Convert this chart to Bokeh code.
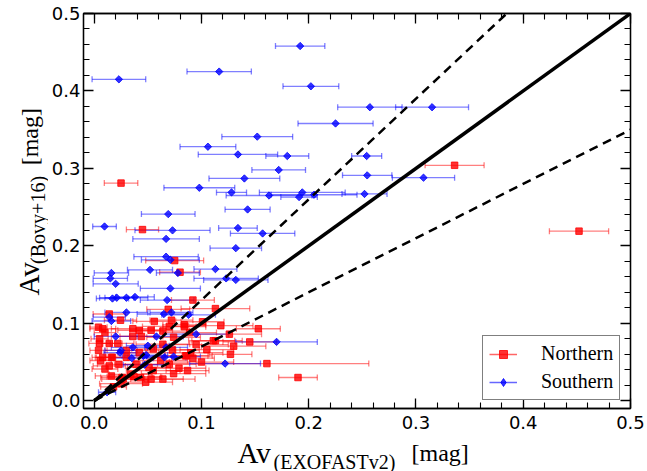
import numpy as np
from bokeh.plotting import figure
from bokeh.layouts import row, column
from bokeh.models import (Range1d, LinearAxis, FixedTicker, NumeralTickFormatter, Whisker,
                          TeeHead, ColumnDataSource, Legend, LegendItem)
from bokeh.core.properties import value
from bokeh.embed import file_html
from bokeh.resources import INLINE

# ---------------- data ----------------
north_x = [0.336, 0.452, 0.025, 0.045, 0.075, 0.080, 0.092, 0.069, 0.113, 0.101,
           0.153, 0.126, 0.145, 0.113, 0.111, 0.127, 0.092, 0.086, 0.087, 0.161,
           0.190, 0.0245, 0.084, 0.072, 0.056, 0.014, 0.008, 0.036, 0.042, 0.053,
           0.064, 0.070, 0.084, 0.074, 0.089, 0.036, 0.044, 0.005, 0.014, 0.022,
           0.064, 0.073, 0.085, 0.008, 0.017, 0.030, 0.014, 0.023, 0.039, 0.051,
           0.062, 0.070, 0.079, 0.016, 0.026, 0.034, 0.043, 0.048, 0.053, 0.004,
           0.006, 0.010, 0.016, 0.027, 0.037, 0.055, 0.064, 0.074, 0.090, 0.095,
           0.004, 0.010, 0.005, 0.030, 0.042, 0.055, 0.105, 0.100, 0.118, 0.130,
           0.018, 0.025]
north_y = [0.304, 0.219, 0.281, 0.221, 0.181, 0.166, 0.130, 0.118, 0.119, 0.102,
           0.093, 0.086, 0.076, 0.0775, 0.0775, 0.060, 0.055, 0.058, 0.039, 0.048,
           0.030, 0.104, 0.098, 0.104, 0.1025, 0.112, 0.093, 0.093, 0.091, 0.091,
           0.090, 0.096, 0.0956, 0.082, 0.088, 0.083, 0.083, 0.074, 0.074, 0.074,
           0.073, 0.0655, 0.058, 0.056, 0.056, 0.056, 0.045, 0.047, 0.047, 0.043,
           0.052, 0.047, 0.042, 0.032, 0.030, 0.034, 0.030, 0.024, 0.028, 0.065,
           0.052, 0.041, 0.056, 0.028, 0.031, 0.039, 0.028, 0.035, 0.062, 0.0725,
           0.095, 0.088, 0.080, 0.065, 0.062, 0.067, 0.066, 0.050, 0.097, 0.0705,
           0.018, 0.022]
north_xerr = [0.0275, 0.0276, 0.0156, 0.015, 0.027, 0.019, 0.020, 0.020, 0.032, 0.020,
              0.0205, 0.030, 0.025, 0.025, 0.020, 0.020, 0.020, 0.020, 0.020, 0.095,
              0.018, 0.015, 0.020, 0.020, 0.020, 0.015, 0.012, 0.020, 0.020, 0.020,
              0.025, 0.025, 0.020, 0.025, 0.025, 0.020, 0.020, 0.010, 0.012, 0.015,
              0.025, 0.025, 0.025, 0.010, 0.015, 0.020, 0.015, 0.020, 0.020, 0.020,
              0.025, 0.025, 0.025, 0.015, 0.020, 0.020, 0.020, 0.025, 0.030, 0.008,
              0.010, 0.012, 0.015, 0.020, 0.025, 0.025, 0.030, 0.030, 0.030, 0.030,
              0.008, 0.010, 0.008, 0.020, 0.020, 0.020, 0.025, 0.030, 0.030, 0.030,
              0.012, 0.020]

south_x = [0.192, 0.1165, 0.023, 0.202, 0.257, 0.315, 0.225, 0.152, 0.106, 0.134,
           0.180, 0.254, 0.172, 0.2545, 0.307, 0.140, 0.098, 0.128, 0.163, 0.194,
           0.191, 0.205, 0.252, 0.069, 0.143, 0.0096, 0.073, 0.067, 0.134, 0.157,
           0.132, 0.067, 0.071, 0.052, 0.078, 0.113, 0.016, 0.015, 0.123, 0.132,
           0.020, 0.071, 0.017, 0.021, 0.030, 0.038, 0.068, 0.030, 0.014, 0.016,
           0.065, 0.072, 0.088, 0.020, 0.058, 0.095, 0.036, 0.050, 0.067, 0.025,
           0.046, 0.074, 0.035, 0.0485, 0.047, 0.0655, 0.012, 0.170, 0.122, 0.024]
south_y = [0.458, 0.425, 0.415, 0.406, 0.379, 0.379, 0.358, 0.341, 0.328, 0.318,
           0.316, 0.316, 0.298, 0.291, 0.288, 0.287, 0.275, 0.269, 0.265, 0.269,
           0.263, 0.266, 0.267, 0.241, 0.247, 0.225, 0.220, 0.209, 0.223, 0.216,
           0.197, 0.186, 0.182, 0.169, 0.165, 0.170, 0.165, 0.158, 0.158, 0.156,
           0.151, 0.145, 0.132, 0.133, 0.133, 0.134, 0.130, 0.114, 0.108, 0.103,
           0.112, 0.114, 0.111, 0.083, 0.083, 0.086, 0.069, 0.071, 0.069, 0.065,
           0.058, 0.057, 0.055, 0.059, 0.0465, 0.056, 0.011, 0.076, 0.048, 0.062]
south_xerr = [0.023, 0.030, 0.025, 0.026, 0.030, 0.034, 0.035, 0.033, 0.026, 0.037,
              0.020, 0.014, 0.025, 0.023, 0.029, 0.033, 0.033, 0.014, 0.040, 0.040,
              0.017, 0.040, 0.021, 0.025, 0.021, 0.011, 0.035, 0.031, 0.018, 0.030,
              0.024, 0.030, 0.027, 0.021, 0.020, 0.020, 0.016, 0.016, 0.030, 0.030,
              0.021, 0.028, 0.015, 0.016, 0.020, 0.018, 0.025, 0.020, 0.015, 0.018,
              0.025, 0.020, 0.025, 0.020, 0.025, 0.030, 0.020, 0.020, 0.020, 0.015,
              0.020, 0.025, 0.020, 0.020, 0.020, 0.020, 0.008, 0.038, 0.033, 0.015]

ref_slopes = [1.0, 1.3, 0.7]
ref_x = [0.0, 0.5]
major_ticks = [0.0, 0.1, 0.2, 0.3, 0.4, 0.5]
minor_ticks = [0.0, 0.02, 0.04, 0.06, 0.08, 0.1, 0.12, 0.14, 0.16, 0.18, 0.2, 0.22, 0.24,
               0.26, 0.28, 0.3, 0.32, 0.34, 0.36, 0.38, 0.4, 0.42, 0.44, 0.46, 0.48, 0.5]
series_names = ["Northern", "Southern"]

RED = "#ff0000"
BLUE = "#0000ff"
SERIF = "Liberation Serif"

# ---------------- main figure ----------------
p = figure(frame_width=547, frame_height=395,
           x_range=Range1d(-0.01, 0.5), y_range=Range1d(-0.01, 0.5),
           output_backend="svg", toolbar_location=None,
           min_border_left=33, min_border_right=19, min_border_top=13, min_border_bottom=29,
           background_fill_color="white", border_fill_color="white")
p.xgrid.visible = False
p.ygrid.visible = False
p.outline_line_color = "black"
p.outline_line_width = 1.3


def style_axis(ax, show_labels=True):
    ax.ticker = FixedTicker(ticks=major_ticks, minor_ticks=minor_ticks)
    ax.formatter = NumeralTickFormatter(format="0.0")
    ax.major_tick_in = 10
    ax.major_tick_out = 0
    ax.minor_tick_in = 6
    ax.minor_tick_out = 0
    ax.major_tick_line_color = "black"
    ax.minor_tick_line_color = "black"
    ax.major_tick_line_width = 1.3
    ax.minor_tick_line_width = 1.1
    ax.axis_line_color = "black"
    ax.axis_line_width = 1.3
    ax.major_label_text_font = "DejaVu Sans"
    ax.major_label_text_font_size = "18px"
    ax.major_label_text_color = "black"
    ax.major_label_standoff = 5
    if not show_labels:
        ax.major_label_text_font_size = "0px"
        ax.major_label_text_color = None
        ax.major_label_standoff = 0


style_axis(p.xaxis[0])
style_axis(p.yaxis[0])
p.xaxis[0].major_label_standoff = 7
p.yaxis[0].major_label_standoff = 3
top_ax = LinearAxis()
right_ax = LinearAxis()
style_axis(top_ax, False)
style_axis(right_ax, False)
p.add_layout(top_ax, "above")
p.add_layout(right_ax, "right")

# ---------------- data: error bars + markers ----------------
def add_series(xs, ys, errs, color, marker, size, angle):
    xs = np.array(xs); ys = np.array(ys); errs = np.array(errs)
    src = ColumnDataSource(dict(x=xs, y=ys, lo=xs - errs, hi=xs + errs))
    w = Whisker(source=src, base="y", lower="lo", upper="hi", dimension="width",
                line_color=color, line_alpha=0.5, line_width=1.3,
                lower_head=TeeHead(size=6, line_color=color, line_alpha=0.5, line_width=1.3),
                upper_head=TeeHead(size=6, line_color=color, line_alpha=0.5, line_width=1.3))
    p.add_layout(w)
    r = p.scatter("x", "y", source=src, marker=marker, size=size, angle=angle,
                  fill_color=color, line_color=color, fill_alpha=0.8, line_alpha=0.8)
    return r

north_r = add_series(north_x, north_y, north_xerr, RED, "square", 6.5, 0.0)
south_r = add_series(south_x, south_y, south_xerr, BLUE, "square", 5.2, np.pi / 4)

# ---------------- reference lines ----------------
rx = np.array(ref_x)
p.line(rx, ref_slopes[0] * rx, line_color="black", line_width=3.5)
p.line(rx, ref_slopes[1] * rx, line_color="black", line_width=2.5, line_dash="9 6")
p.line(rx, ref_slopes[2] * rx, line_color="black", line_width=2.5, line_dash="9 6")

# ---------------- legend (legend-only proxies carry no data: NaN) ----------------
nan = [np.nan]
n_bar = p.line(x=nan, y=nan, line_color=RED, line_alpha=0.6, line_width=1.5)
s_bar = p.line(x=nan, y=nan, line_color=BLUE, line_alpha=0.6, line_width=1.5)
n_mk = p.scatter(x=nan, y=nan, marker="square", size=6.5, fill_color=RED, line_color=RED,
                 fill_alpha=0.8, line_alpha=0.8)
s_mk = p.scatter(x=nan, y=nan, marker="diamond", size=9, fill_color=BLUE, line_color=BLUE,
                 fill_alpha=0.8, line_alpha=0.8)
legend = Legend(items=[LegendItem(label=series_names[0], renderers=[n_bar, n_mk]),
                       LegendItem(label=series_names[1], renderers=[s_bar, s_mk])],
                location=(399, 8), orientation="vertical",
                label_text_font=SERIF, label_text_font_size="20px", label_text_color="black",
                glyph_width=28, glyph_height=20, label_height=20, label_standoff=24,
                padding=6, spacing=5, margin=0,
                border_line_color="black", border_line_width=1.3,
                background_fill_color="white", background_fill_alpha=1.0)
p.add_layout(legend, "center")


# ---------------- axis titles (separate strips, with subscripts) ----------------
def strip(w, h):
    f = figure(width=w, height=h, x_range=Range1d(0, w), y_range=Range1d(0, h),
               output_backend="svg", toolbar_location=None,
               x_axis_location=None, y_axis_location=None, min_border=0,
               background_fill_color="white", border_fill_color="white")
    f.grid.visible = False
    f.outline_line_color = None
    return f


def txt(f, x, y, s, size, angle=0.0):
    f.text(x=[x], y=[y], text=[s], angle=angle, text_font=value(SERIF),
           text_font_size=size, text_color="black", text_align="left",
           text_baseline="middle")


# left strip: 48 x 437 (pixel coordinates, origin bottom-left)
ylab = strip(48, 437)
txt(ylab, 28.5, 125, "Av", "29px", np.pi / 2)
txt(ylab, 37, 160, "(Bovy+16)", "20px", np.pi / 2)
txt(ylab, 29.8, 269, "[mag]", "24px", np.pi / 2)

# bottom strip: 647 x 34
xlab = strip(647, 34)
txt(xlab, 237, 18.7, "Av", "29px")
txt(xlab, 273, 10, "(EXOFASTv2)", "20px")
txt(xlab, 411, 18.3, "[mag]", "24px")

layout = column(row(ylab, p, spacing=0), xlab, spacing=0)

open("out.html", "w").write(file_html(layout, INLINE))
